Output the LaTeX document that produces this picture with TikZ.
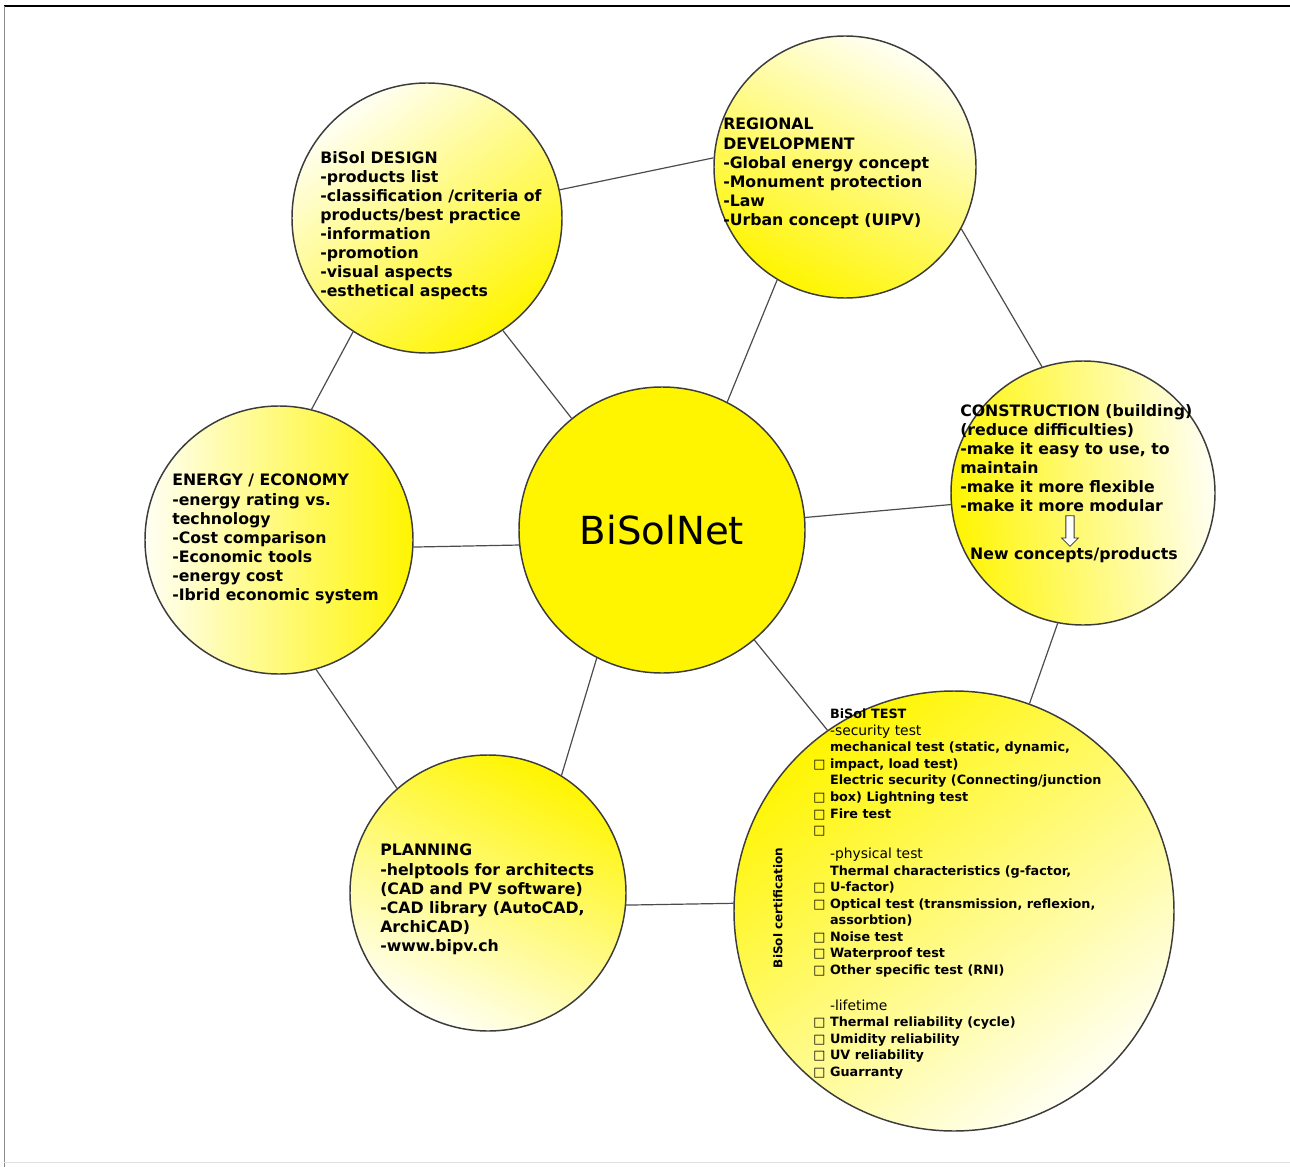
\documentclass[tikz,border=0pt]{standalone}
\usepackage{fontspec}
\setmainfont{DejaVu Sans}
\usetikzlibrary{shapes.arrows}
\definecolor{bisolyellow}{RGB}{255,245,0}
\definecolor{paleyellow}{RGB}{255,255,244}
\definecolor{rimgray}{RGB}{60,60,60}
\newcommand{\chk}{{\mdseries\symbol{"25A1}}}

\begin{document}
\begin{tikzpicture}[
  x=0.75pt, y=-0.75pt,
  bubble/.style={circle, draw=rimgray, line width=1.1pt, inner sep=0pt, left color=bisolyellow, right color=paleyellow},
  core/.style={circle, draw=rimgray, line width=1.1pt, inner sep=0pt, fill=bisolyellow, minimum size=214.5pt, font=\fontsize{29}{34}\selectfont},
  link/.style={draw=black!70, line width=0.9pt},
  txt/.style={anchor=north west, align=left, inner sep=0pt, font=\fontsize{11.8}{14.3}\selectfont\bfseries},
  testtxt/.style={anchor=north west, inner sep=0pt, font=\fontsize{9.6}{12.4}\selectfont\bfseries}
]
\fill[white] (0,0) rectangle (1290,1167);
\useasboundingbox (0,0) rectangle (1290,1167);
\draw[black, line width=1.6pt] (4,6) -- (1290,6);
\draw[black!45, line width=0.6pt] (4,6) -- (4,1167);
\draw[black!12, line width=0.6pt] (4,1162) -- (1290,1162);

\node[core] (net) at (662,530) {BiSolNet};
\node[bubble, minimum size=202.5pt, shading angle=-143] (design) at (427,218) {};
\node[bubble, minimum size=196.5pt, shading angle=153] (regional) at (845,167) {};
\node[bubble, minimum size=198pt, shading angle=95] (construction) at (1083,493) {};
\node[bubble, minimum size=201pt, shading angle=-90] (energy) at (279,540) {};
\node[bubble, minimum size=207pt, shading angle=-26] (planning) at (488,893) {};
\node[bubble, minimum size=330pt, shading angle=37] (test) at (954,911) {};

\draw[link] (design.12) -- (regional.176);
\draw[link] (regional.-28) -- (construction.108);
\draw[link] (construction.259) -- (test.70);
\draw[link] (test.178) -- (planning.-5);
\draw[link] (planning.131) -- (energy.-74);
\draw[link] (energy.76) -- (design.237);
\draw[link] (net.129) -- (design.-56);
\draw[link] (net.63) -- (regional.239);
\draw[link] (net.5) -- (construction.185);
\draw[link] (net.-50) -- (test.125);
\draw[link] (net.243) -- (planning.58);
\draw[link] (net.186) -- (energy.-3);

\node[txt] (designtxt) at (320,151) {BiSol DESIGN\\-products list\\-classification /criteria of\\products/best practice\\-information\\-promotion\\-visual aspects\\-esthetical aspects};
\node[txt] (regionaltxt) at (723,118) {REGIONAL\\DEVELOPMENT\\-Global energy concept\\-Monument protection\\-Law\\-Urban concept (UIPV)};
\node[txt] (constructiontxt) at (960,404) {CONSTRUCTION (building)\\(reduce difficulties)\\-make it easy to use, to\\maintain\\-make it more flexible\\-make it more modular};
\node[single arrow, draw=black!80, fill=white, line width=0.6pt, shape border rotate=270, inner sep=2.8pt, minimum height=23pt, single arrow head extend=3.2pt] (downarrow) at (1070,529) {};
\node[txt, anchor=center] (newconcepts) at (1074,555) {New concepts/products};
\node[txt] (energytxt) at (172,474) {ENERGY / ECONOMY\\-energy rating vs.\\technology\\-Cost comparison\\-Economic tools\\-energy cost\\-Ibrid economic system};
\node[txt] (planningtxt) at (380,844) {PLANNING\\-helptools for architects\\(CAD and PV software)\\-CAD library (AutoCAD,\\ArchiCAD)\\-www.bipv.ch};

\node[testtxt] (testtxt) at (813,707) {%
\begin{tabular}{@{}l@{\hspace{3.5pt}}l@{}}
 & BiSol TEST\\
 & {\mdseries\fontsize{10.4}{12.4}\selectfont -security test}\\
 & mechanical test (static, dynamic,\\
\chk & impact, load test)\\
 & Electric security (Connecting/junction\\
\chk & box) Lightning test\\
\chk & Fire test\\
\chk & \\[5.6pt]
 & {\mdseries\fontsize{10.4}{12.4}\selectfont -physical test}\\
 & Thermal characteristics (g-factor,\\
\chk & U-factor)\\
\chk & Optical test (transmission, reflexion,\\
 & assorbtion)\\
\chk & Noise test\\
\chk & Waterproof test\\
\chk & Other specific test (RNI)\\[14.5pt]
 & {\mdseries\fontsize{10.4}{12.4}\selectfont -lifetime}\\
\chk & Thermal reliability (cycle)\\
\chk & Umidity reliability\\
\chk & UV reliability\\
\chk & Guarranty
\end{tabular}};
\node[testtxt, anchor=center, rotate=90, font=\fontsize{9}{11}\selectfont\bfseries] (certification) at (778,908) {BiSol certification};
\end{tikzpicture}
\end{document}
